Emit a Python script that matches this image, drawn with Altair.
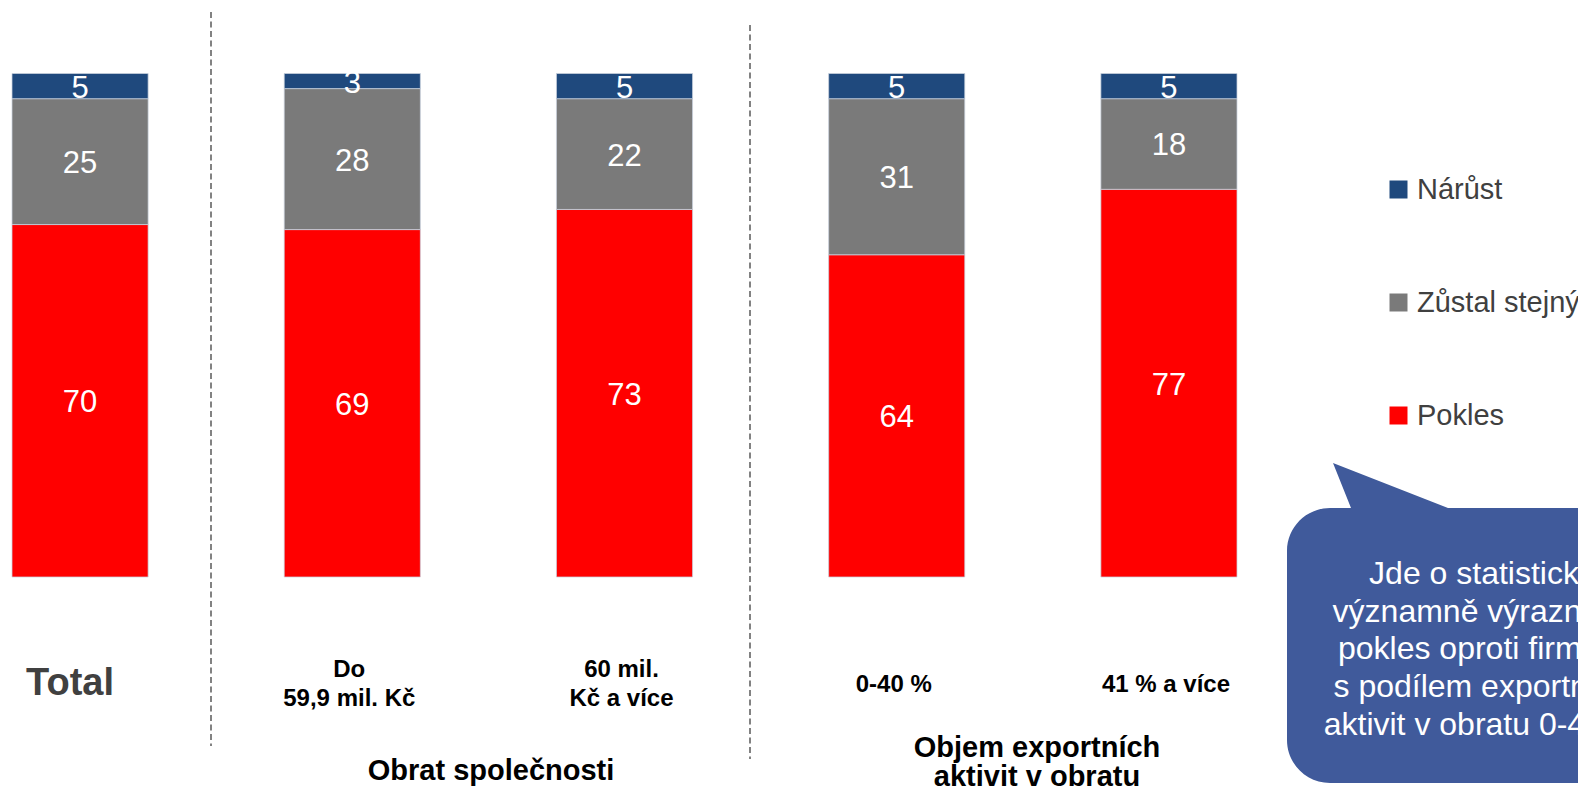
import altair as alt
import pandas as pd

FONT = "Liberation Sans"

categories = ["Total", "Do\n59,9 mil. Kč", "60 mil.\nKč a více", "0-40 %", "41 % a více"]
pokles = [70, 69, 73, 64, 77]
zustal = [25, 28, 22, 31, 18]
narust = [5, 3, 5, 5, 5]

series = ["Nárůst", "Zůstal stejný", "Pokles"]
colors = ["#1F497D", "#7A7A7A", "#FF0000"]

group_titles = ["Obrat společnosti", "Objem exportních\naktivit v obratu"]
note = "Jde o statisticky\nvýznamně výraznější\npokles oproti firmám\ns podílem exportních\naktivit v obratu 0-40 %"

rows = []
for i, c in enumerate(categories):
    for s, vals, rank in [("Pokles", pokles, 1), ("Zůstal stejný", zustal, 2), ("Nárůst", narust, 3)]:
        rows.append({"cat": c, "series": s, "value": vals[i], "rank": rank})
df = pd.DataFrame(rows)

xscale = alt.Scale(domain=categories, range=[4, 1229], paddingInner=0.5, paddingOuter=0)
yscale = alt.Scale(domain=[0, 100], range=[569, 65.5])

legend = alt.Legend(
    title=None, orient="none", legendX=1376, legendY=167, direction="vertical",
    symbolType="square", symbolSize=324, symbolStrokeWidth=0,
    labelFontSize=29, labelFont=FONT, labelColor="#404040", labelOffset=4,
    labelLimit=600, rowPadding=83, padding=0,
)
color = alt.Color("series:N", scale=alt.Scale(domain=series, range=colors), legend=legend)

base = alt.Chart(df).transform_stack(
    stack="value", groupby=["cat"], sort=[alt.SortField("rank", order="ascending")], as_=["y0", "y1"]
).transform_calculate(mid="(datum.y0 + datum.y1) / 2")

bars = base.mark_bar(stroke="#C9D1DE", strokeWidth=0.75).encode(
    x=alt.X("cat:N", scale=xscale, axis=None),
    y=alt.Y("y0:Q", scale=yscale, axis=None),
    y2="y1:Q",
    color=color,
)

values = base.mark_text(color="white", fontSize=31, font=FONT, baseline="middle", dy=2.5).encode(
    x=alt.X("cat:N", scale=xscale, axis=None),
    y=alt.Y("mid:Q", scale=yscale, axis=None),
    text="value:Q",
)

cat_df = pd.DataFrame({"cat": categories})
cat_base = alt.Chart(cat_df)

total_label = cat_base.transform_filter(alt.datum.cat == "Total").mark_text(
    font=FONT, fontWeight="bold", baseline="middle", fontSize=38, color="#404040", dx=-10
).encode(x=alt.X("cat:N", scale=xscale, axis=None), y=alt.value(676), text="cat:N")

single_labels = cat_base.transform_filter(
    "datum.cat != 'Total' && indexof(datum.cat, '\\n') < 0"
).mark_text(
    font=FONT, fontWeight="bold", baseline="middle", fontSize=24, color="#000000", dx=-3
).encode(x=alt.X("cat:N", scale=xscale, axis=None), y=alt.value(677), text="cat:N")

multi_labels = cat_base.transform_filter("indexof(datum.cat, '\\n') >= 0").mark_text(
    font=FONT, fontWeight="bold", baseline="middle", fontSize=24, color="#000000",
    lineBreak="\n", lineHeight=29, dx=-3,
).encode(x=alt.X("cat:N", scale=xscale, axis=None), y=alt.value(662), text="cat:N")

rule1 = alt.Chart(pd.DataFrame({"a": [0]})).mark_rule(
    color="#595959", strokeWidth=1.5, strokeDash=[6, 3.5]
).encode(x=alt.value(203), y=alt.value(4), y2=alt.value(738))
rule2 = alt.Chart(pd.DataFrame({"a": [0]})).mark_rule(
    color="#595959", strokeWidth=1.5, strokeDash=[6, 3.5]
).encode(x=alt.value(742), y=alt.value(17), y2=alt.value(751))

title1 = alt.Chart(pd.DataFrame({"t": [group_titles[0]]})).mark_text(
    font=FONT, fontWeight="bold", fontSize=29, color="#000000", baseline="middle"
).encode(x=alt.value(483), y=alt.value(763), text="t:N")
title2 = alt.Chart(pd.DataFrame({"t": [group_titles[1]]})).mark_text(
    font=FONT, fontWeight="bold", fontSize=29, color="#000000", baseline="middle",
    lineBreak="\n", lineHeight=29,
).encode(x=alt.value(1029), y=alt.value(740), text="t:N")

bubble_path = (
    "M1322,500 L1343,500 L1325,455 L1440,500 L1700,500 L1700,775 L1322,775 "
    "A43,43 0 0 1 1279,732 L1279,543 A43,43 0 0 1 1322,500 Z"
)
note_df = pd.DataFrame({"note": [note]})
bubble = alt.Chart(note_df).mark_point(
    shape=bubble_path, filled=True, fill="#405A9B", strokeWidth=0, opacity=1, size=4
).encode(x=alt.value(0), y=alt.value(0))
note_text = alt.Chart(note_df).mark_text(
    font=FONT, fontSize=32, color="white", baseline="middle", align="center",
    lineBreak="\n", lineHeight=37.7,
).encode(x=alt.value(1474), y=alt.value(566), text="note:N")

chart = alt.layer(
    bars, values, total_label, single_labels, multi_labels, rule1, rule2,
    title1, title2, bubble, note_text
).properties(
    width=1570, height=780, padding=0, autosize="none"
).configure(background="white").configure_view(stroke=None, strokeWidth=0)

chart.save("out.html", embed_options={"renderer": "svg", "actions": False})
